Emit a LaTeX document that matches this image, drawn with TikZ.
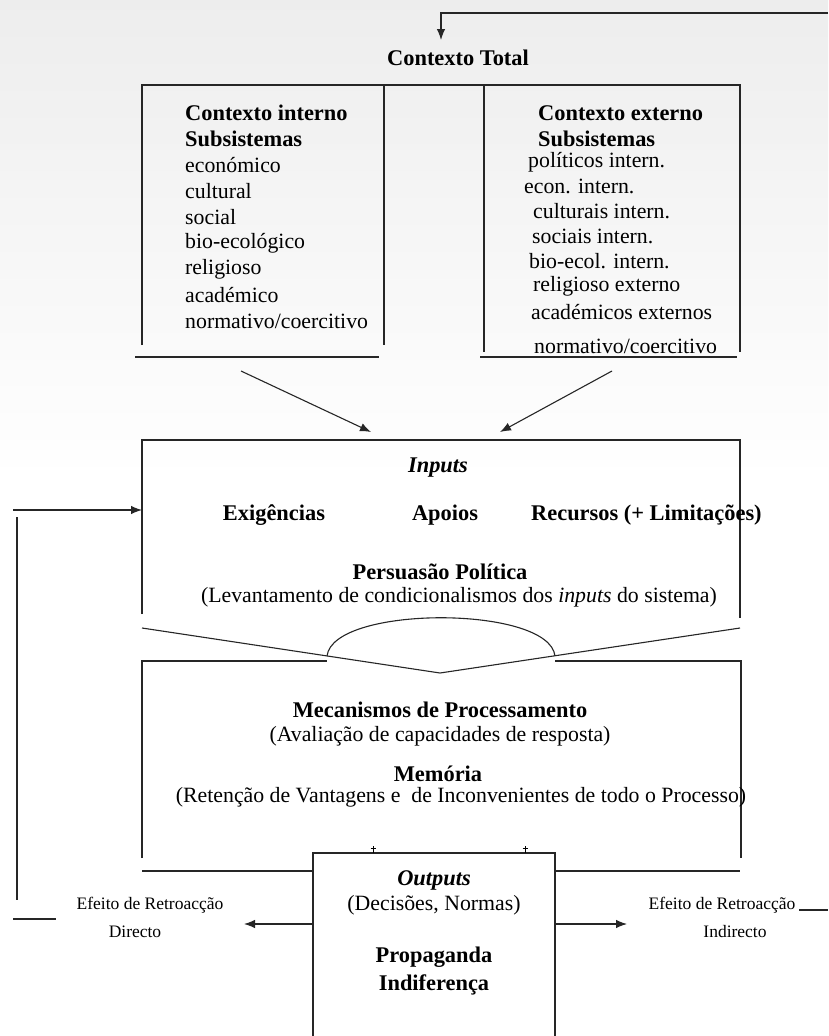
\documentclass[tikz,border=0pt]{standalone}
\usepackage{fontspec}
\setmainfont{Liberation Serif}
\usetikzlibrary{arrows.meta}
\begin{document}
\begin{tikzpicture}[x=1pt,y=-1pt,
  ln/.style={line width=1.1pt, black!85},
  arr/.style={ln, -{Latex[length=11pt,width=8.5pt]}},
  tx/.style={inner sep=0pt, font=\fontsize{21.8}{26}\selectfont},
  bx/.style={inner sep=0pt, font=\fontsize{22.4}{26}\selectfont\bfseries},
  bi/.style={inner sep=0pt, font=\fontsize{22.4}{26}\selectfont\bfseries\itshape},
  sm/.style={inner sep=0pt, font=\fontsize{17.5}{20}\selectfont}]
\useasboundingbox (0,0) rectangle (828,1036);
\fill[white] (0,0) rectangle (828,1036);
\shade[top color=black!7, bottom color=white] (0,0) rectangle (828,480);

% top feedback
\coordinate (tfR) at (828,13);
\coordinate (tfC) at (441,13);
\coordinate (tfT) at (441,40);
\draw[arr] (tfR) -- (tfC) -- (tfT);
\node[bx] (ctot) at (458,58) {Contexto Total};

% context boxes
\draw[ln] (142,345) -- (142,85) -- (740,85) -- (740,352);
\draw[ln] (384,85) -- (384,345);
\draw[ln] (484,85) -- (484,352);
\draw[ln] (135,357) -- (379,357);
\draw[ln] (480,357) -- (737,357);

\node[bx,anchor=west] (ci1) at (185,113) {Contexto interno};
\node[bx,anchor=west] (ci2) at (185,139) {Subsistemas};
\node[tx,anchor=west] (ci3) at (185,165) {económico};
\node[tx,anchor=west] (ci4) at (185,191) {cultural};
\node[tx,anchor=west] (ci5) at (185,217) {social};
\node[tx,anchor=west] (ci6) at (185,243) {bio-ecológico};
\node[tx,anchor=west] (ci7) at (185,269) {religioso};
\node[tx,anchor=west] (ci8) at (185,295) {académico};
\node[tx,anchor=west] (ci9) at (185,321) {normativo/coercitivo};

\node[bx,anchor=west] (ce1) at (538,113) {Contexto externo};
\node[bx,anchor=west] (ce2) at (538,139) {Subsistemas};
\node[tx,anchor=west] (ce3) at (528,162) {políticos intern.};
\node[tx,anchor=west] (ce4) at (524,186) {econ. intern.};
\node[tx,anchor=west] (ce5) at (533,211) {culturais intern.};
\node[tx,anchor=west] (ce6) at (532,236) {sociais intern.};
\node[tx,anchor=west] (ce7) at (529,261) {bio-ecol. intern.};
\node[tx,anchor=west] (ce8) at (533,286) {religioso externo};
\node[tx,anchor=west] (ce9) at (531,312) {académicos externos};
\node[tx,anchor=west] (ce10) at (534,346) {normativo/coercitivo};

% arrows into inputs
\coordinate (aL1) at (241,371); \coordinate (aL2) at (371,432);
\coordinate (aR1) at (612,371); \coordinate (aR2) at (500,432);
\draw[arr] (aL1) -- (aL2);
\draw[arr] (aR1) -- (aR2);

% inputs box
\draw[ln] (142,614) -- (142,440) -- (740,440) -- (740,618);
\node[bi] (inp) at (438,468) {Inputs};
\node[bx] (exi) at (274,515) {Exigências};
\node[bx] (apo) at (445,515) {Apoios};
\node[bx,anchor=west] (rec) at (531,515) {Recursos (+ Limitações)};
\node[bx] (per) at (440,572) {Persuasão Política};
\node[tx] (lev) at (459,597) {(Levantamento de condicionalismos dos \textit{inputs} do sistema)};

% left feedback
\coordinate (lf1) at (13,510); \coordinate (lf2) at (142,510);
\draw[arr] (lf1) -- (lf2);
\draw[ln] (17,517) -- (17,900);
\draw[ln] (13,919) -- (56,919);

% funnel
\draw[ln] (142,628) -- (440,673) -- (740,628);
\draw[ln] (327,656) .. controls (333,605) and (549,605) .. (555,656);

% processing box
\draw[ln] (142,858) -- (142,661) -- (327,661);
\draw[ln] (555,661) -- (741,661) -- (741,858);
\draw[ln] (142,871) -- (313,871);
\draw[ln] (555,871) -- (740,871);
\node[bx] (mec) at (440,710) {Mecanismos de Processamento};
\node[tx] (ava) at (440,736) {(Avaliação de capacidades de resposta)};
\node[bx] (mem) at (438,774) {Memória};
\node[tx] (ret) at (461,797) {(Retenção de Vantagens e \ de Inconvenientes de todo o Processo)};

% outputs box
\draw[ln] (313,1040) -- (313,853) -- (555,853) -- (555,1040);
\draw[line width=0.7pt] (373,853) -- (373,846) (370.5,848) -- (375.5,848);
\draw[line width=0.7pt] (525,853) -- (525,846) (522.5,848) -- (527.5,848);
\node[bi] (out) at (434,880) {Outputs};
\node[tx] (dec) at (434,905) {(Decisões, Normas)};
\node[bx] (pro) at (434,957) {Propaganda};
\node[bx] (ind) at (434,985) {Indiferença};

\coordinate (oL1) at (313,924); \coordinate (oL2) at (244,924);
\coordinate (oR1) at (555,924); \coordinate (oR2) at (627,924);
\draw[arr] (oL1) -- (oL2);
\draw[arr] (oR1) -- (oR2);

\node[sm] (efL) at (150,905) {Efeito de Retroacção};
\node[sm] (diL) at (135,932) {Directo};
\node[sm] (efR) at (722,905) {Efeito de Retroacção};
\node[sm] (diR) at (735,932) {Indirecto};
\draw[ln] (799,910) -- (828,910);
\end{tikzpicture}
\end{document}
